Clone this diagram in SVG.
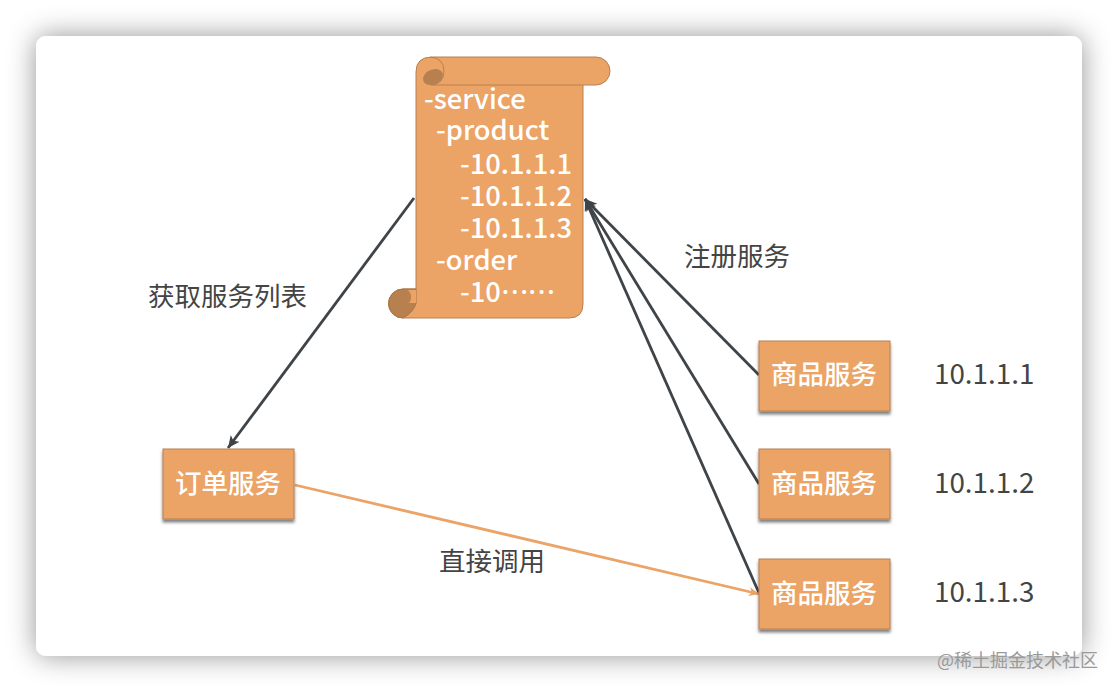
<svg xmlns="http://www.w3.org/2000/svg" width="1118" height="692" viewBox="0 0 1118 692">
<style>
.n{fill:#eba366;stroke:#b98052;stroke-width:1}
.w{font-family:"Noto Sans CJK SC","Noto Sans",sans-serif;fill:#fff;font-size:26.500px;font-weight:500}
.m{font-family:"Noto Sans CJK SC","Noto Sans",sans-serif;fill:#fff;font-size:27.300px;font-weight:500}
.d{font-family:"Noto Sans CJK SC","Noto Sans",sans-serif;fill:#444;font-size:26.500px}
.p{font-family:"Noto Sans CJK SC","Noto Sans",sans-serif;fill:#444;font-size:27.800px}
.l{fill:none;stroke:#3f4448;stroke-width:2.800}
</style>
<defs>
<filter id="card" x="-10%" y="-15%" width="120%" height="130%"><feDropShadow dx="0" dy="0" stdDeviation="14" flood-color="#000" flood-opacity=".42"/></filter>
<filter id="sh" x="-10%" y="-10%" width="120%" height="125%"><feDropShadow dx="0" dy="3" stdDeviation="1.500" flood-color="#000" flood-opacity=".5"/></filter>
<marker id="a" markerWidth="14" markerHeight="12" refX="12" refY="6" orient="auto" markerUnits="userSpaceOnUse"><path d="M0 0.500L12 6L0 11.500L3 6Z" fill="#3f4448"/></marker>
<marker id="b" markerWidth="14" markerHeight="12" refX="10" refY="5" orient="auto" markerUnits="userSpaceOnUse"><path d="M0 0.500L10 5L0 9.500L2.500 5Z" fill="#eba366"/></marker>
</defs>
<rect width="1118" height="692" fill="#fff"/>
<rect x="36" y="36" width="1046" height="620" rx="10" fill="#fff" filter="url(#card)"/>
<g id="connectors">
<path class="l" d="M414 198L228 448" marker-end="url(#a)"/>
<path class="l" d="M759 375L585 199" marker-end="url(#a)"/>
<path class="l" d="M759 484L585 199" marker-end="url(#a)"/>
<path class="l" d="M759 593L585 199" marker-end="url(#a)"/>
<path d="M295 485L759 594" fill="none" stroke="#eba366" stroke-width="2.800" marker-end="url(#b)"/>
</g>
<g id="registry">
<path class="n" d="M432 57H596A14 14 0 0 1 596 85H583V304Q583 318 569 318H403A14.500 14.500 0 0 1 403 289H416V72Q416 57 432 57Z"/>
<path d="M423 78Q425 70 435 69Q441 69 443 74Q443 82 434 85H430Q423 85 423 78Z" fill="#b8804f"/>
<path d="M430 57Q444 58 444 71Q444 84 431 85H583" fill="none" stroke="#b98052"/>
<path d="M403 289H416V303Q414 312 403 318A14.500 14.500 0 0 1 403 289Z" fill="#b8804f" stroke="#a97547"/>
<path d="M408 290H416V303H409Q414 296 408 290Z" fill="#eba366"/>
<text class="m"><tspan x="424" y="109">-service</tspan><tspan x="436" y="140">-product</tspan><tspan x="460" y="174">-10.1.1.1</tspan><tspan x="460" y="206">-10.1.1.2</tspan><tspan x="460" y="238">-10.1.1.3</tspan><tspan x="436" y="270">-order</tspan><tspan x="460" y="302">-10<tspan dy="-8" font-size="25">……</tspan></tspan></text>
</g>
<g id="order"><rect class="n" x="163" y="449" width="131" height="70" filter="url(#sh)"/><text class="w" x="228" y="493" text-anchor="middle">订单服务</text></g>
<g id="product1"><rect class="n" x="759" y="341" width="131" height="70" filter="url(#sh)"/><text class="w" x="824" y="384" text-anchor="middle">商品服务</text></g>
<g id="product2"><rect class="n" x="759" y="449" width="131" height="70" filter="url(#sh)"/><text class="w" x="824" y="493" text-anchor="middle">商品服务</text></g>
<g id="product3"><rect class="n" x="759" y="559" width="131" height="70" filter="url(#sh)"/><text class="w" x="824" y="603" text-anchor="middle">商品服务</text></g>
<g id="labels">
<text class="d" x="148" y="306">获取服务列表</text>
<text class="d" x="684" y="266">注册服务</text>
<text class="d" x="439" y="571">直接调用</text>
<text class="p" x="934" y="384">10.1.1.1</text>
<text class="p" x="934" y="493">10.1.1.2</text>
<text class="p" x="934" y="602">10.1.1.3</text>
</g>
<text x="937" y="667" font-family="Noto Sans CJK SC,sans-serif" font-size="18" fill="#9a9a9a">@稀土掘金技术社区</text>
</svg>
